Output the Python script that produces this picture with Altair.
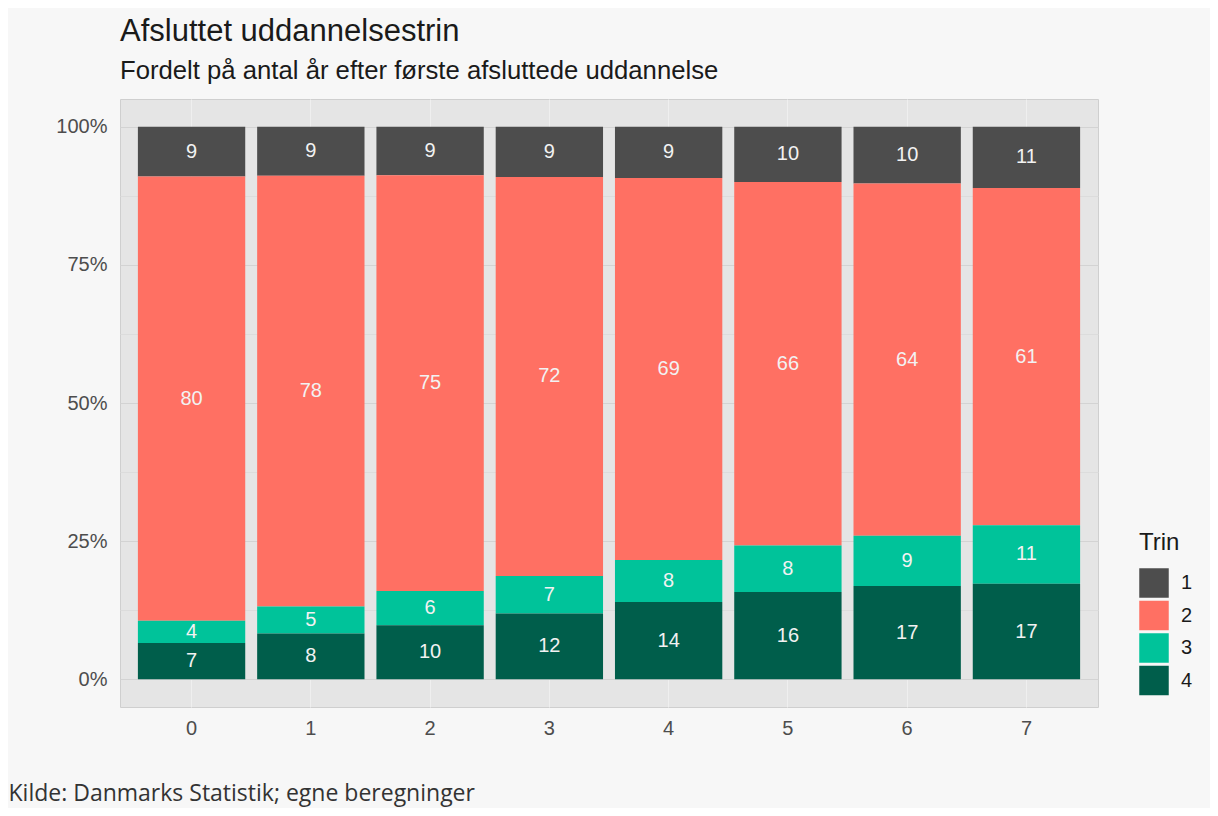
import altair as alt
import pandas as pd

years = ["0", "1", "2", "3", "4", "5", "6", "7"]
trin_levels = ["1", "2", "3", "4"]
trin1 = [9.0, 8.9, 8.8, 9.1, 9.3, 10.0, 10.3, 11.1]
trin2 = [80.4, 77.9, 75.2, 72.2, 69.1, 65.8, 63.7, 61.0]
trin3 = [4.0, 4.9, 6.2, 6.8, 7.6, 8.4, 9.1, 10.6]
trin4 = [6.6, 8.3, 9.8, 11.9, 14.0, 15.8, 16.9, 17.3]
colors = ["#4d4d4d", "#ff7063", "#00c39a", "#005e4b"]
y_ticks = [0, 12.5, 25, 37.5, 50, 62.5, 75, 87.5, 100]

title_text = "Afsluttet uddannelsestrin"
subtitle_text = "Fordelt på antal år efter første afsluttede uddannelse"
caption_text = "Kilde: Danmarks Statistik; egne beregninger"

rows = []
for lvl, series in zip(trin_levels, [trin1, trin2, trin3, trin4]):
    for yr, v in zip(years, series):
        rows.append({"aar": yr, "trin": lvl, "andel": v})
df = pd.DataFrame(rows)

FONT = "Liberation Sans"

base = alt.Chart(df).transform_stack(
    stack="andel",
    groupby=["aar"],
    sort=[alt.SortField("trin", order="descending")],
    as_=["y0", "y1"],
).transform_calculate(
    ymid="(datum.y0 + datum.y1) / 2",
    lab="format(datum.andel, '.0f')",
)

x_enc = alt.X(
    "aar:N",
    sort=years,
    scale=alt.Scale(paddingInner=0.1, paddingOuter=0.15),
    axis=alt.Axis(
        title=caption_text,
        titleFont="Open Sans",
        titleFontSize=23,
        titleFontWeight="normal",
        titleColor="#333333",
        titleX=-112,
        titleY=93,
        titleAlign="left",
        titleAnchor="start",
        titleBaseline="alphabetic",
        labelFont=FONT,
        labelFontSize=20,
        labelColor="#4d4d4d",
        labelPadding=11,
        labelAngle=0,
        domain=False,
        ticks=False,
        grid=True,
        gridColor="#efefef",
        gridWidth=1,
        bandPosition=0.5,
    ),
)

y_scale = alt.Scale(domain=[-5, 105], nice=False, zero=False)
y_axis = alt.Axis(
    title=None,
    values=y_ticks,
    labelExpr="datum.value % 25 == 0 ? datum.value + '%' : ''",
    labelFont=FONT,
    labelFontSize=20,
    labelColor="#4d4d4d",
    labelPadding=13,
    domain=False,
    ticks=False,
    grid=True,
    gridColor={"condition": {"test": "datum.value % 25 != 0", "value": "#dcdcdc"}, "value": "#d3d3d3"},
    gridWidth=1,
)

bars = base.mark_bar(strokeWidth=0).encode(
    x=x_enc,
    y=alt.Y("y0:Q", scale=y_scale, axis=y_axis),
    y2="y1:Q",
    color=alt.Color(
        "trin:N",
        scale=alt.Scale(domain=trin_levels, range=colors),
        legend=alt.Legend(
            title="Trin",
            orient="none",
            legendX=1019,
            legendY=432,
            symbolType="square",
            symbolSize=870,
            symbolStrokeWidth=0,
            symbolOpacity=1,
            labelFont=FONT,
            labelFontSize=20,
            labelColor="#1a1a1a",
            titleFont=FONT,
            titleFontSize=24,
            titleFontWeight="normal",
            titleColor="#1a1a1a",
            labelOffset=12,
            rowPadding=2.5,
            titlePadding=13,
            padding=0,
        ),
    ),
)

labels = base.mark_text(
    font=FONT, fontSize=20, color="#f2f2f2", baseline="middle", align="center"
).encode(
    x=x_enc,
    y=alt.Y("ymid:Q", scale=y_scale, axis=y_axis),
    text="lab:N",
)

chart = alt.layer(bars, labels).properties(
    width=978,
    height=608,
    title=alt.Title(
        title_text,
        subtitle=subtitle_text,
        anchor="start",
        frame="group",
        offset=14,
        subtitlePadding=11,
        font=FONT,
        fontSize=31,
        fontWeight="normal",
        color="#1a1a1a",
        subtitleFont=FONT,
        subtitleFontSize=25.7,
        subtitleColor="#1a1a1a",
    ),
    autosize=alt.AutoSizeParams(type="none"),
    padding={"left": 112, "top": 91, "right": 112, "bottom": 101},
    background="#f7f7f7",
).configure(font=FONT).configure_view(fill="#e5e5e5", stroke="#cfcfcf", strokeWidth=1)

chart.save("out.html", embed_options={"renderer": "svg", "actions": False})
